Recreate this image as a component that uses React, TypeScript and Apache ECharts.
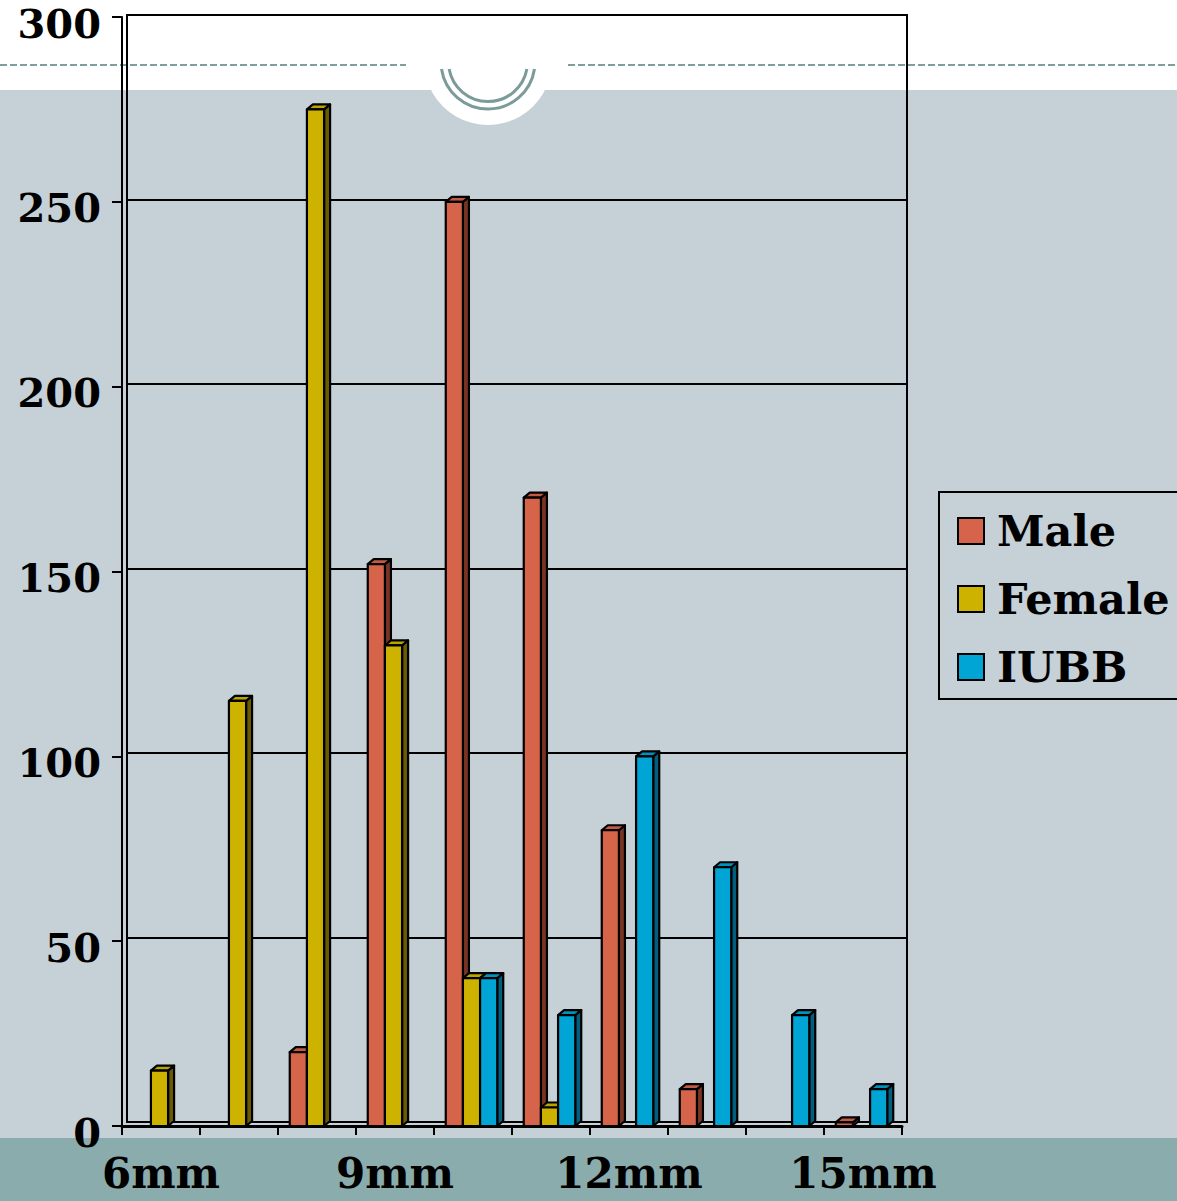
import React, { useEffect, useRef } from "react";
import * as echarts from "echarts";

// Bore sizes along the category axis
const categories = ["6mm", "7mm", "8mm", "9mm", "10mm", "11mm", "12mm", "13mm", "14mm", "15mm"];

// Counts per group
const maleValues = [0, 0, 20, 152, 250, 170, 80, 10, 0, 1];
const femaleValues = [15, 115, 275, 130, 40, 5, 0, 0, 0, 0];
const iubbValues = [0, 0, 0, 0, 40, 30, 100, 70, 30, 10];

// Value axis range
const yMin = 0;
const yMax = 300;
const yStep = 50;

const seriesNames = ["Male", "Female", "IUBB"];
const seriesValues = [maleValues, femaleValues, iubbValues];

// front / side / top face colours for the 3D columns
const palette = [
  { front: "#D5644B", side: "#7A3424", top: "#C45A43" },
  { front: "#CDB300", side: "#6B5B00", top: "#BBA300" },
  { front: "#00A5D6", side: "#005E7E", top: "#0092BC" },
];

const FONT = "'DejaVu Serif', 'Liberation Serif', serif";
const DEPTH_X = 6;
const DEPTH_Y = 5;

function renderColumn(params: any, api: any) {
  const cat = api.value(0);
  const val = api.value(1);
  if (!val) return null;
  const [cx, yTop] = api.coord([cat, val]);
  const [, yBase] = api.coord([cat, 0]);
  const band = api.size([1, 0])[0];
  const w = band * 0.22;
  const x0 = cx - 1.5 * w - 1.5 + params.seriesIndex * w;
  const x1 = x0 + w;
  const c = palette[params.seriesIndex];
  const stroke = { stroke: "#000", lineWidth: 2.2, lineJoin: "round" };
  return {
    type: "group",
    children: [
      {
        type: "polygon",
        shape: {
          points: [
            [x1, yTop],
            [x1 + DEPTH_X, yTop - DEPTH_Y],
            [x1 + DEPTH_X, yBase - DEPTH_Y],
            [x1, yBase],
          ],
        },
        style: { fill: c.side, ...stroke },
      },
      {
        type: "polygon",
        shape: {
          points: [
            [x0, yTop],
            [x0 + DEPTH_X, yTop - DEPTH_Y],
            [x1 + DEPTH_X, yTop - DEPTH_Y],
            [x1, yTop],
          ],
        },
        style: { fill: c.top, ...stroke },
      },
      {
        type: "rect",
        shape: { x: x0, y: yTop, width: w, height: yBase - yTop },
        style: { fill: c.front, ...stroke },
      },
    ],
  };
}

export default function App() {
  const ref = useRef<HTMLDivElement>(null);

  useEffect(() => {
    if (!ref.current) return;
    const chart = echarts.init(ref.current, null, { renderer: "svg" });

    const option: any = {
      animation: false,
      backgroundColor: "#ffffff",
      textStyle: { fontFamily: FONT },
      graphic: [
        // slide background bands
        { type: "rect", z: -20, shape: { x: 0, y: 90, width: 1177, height: 1048 }, style: { fill: "#C5D0D7" } },
        { type: "rect", z: -20, shape: { x: 0, y: 1138, width: 1177, height: 63 }, style: { fill: "#8AACAC" } },
        // dashed rule across the header
        { type: "line", z: -19, shape: { x1: 0, y1: 65, x2: 406, y2: 65 }, style: { stroke: "#7F9E9E", lineWidth: 2, lineDash: [7, 3] } },
        { type: "line", z: -19, shape: { x1: 568, y1: 65, x2: 1177, y2: 65 }, style: { stroke: "#7F9E9E", lineWidth: 2, lineDash: [7, 3] } },
        // header medallion
        { type: "circle", z: -18, shape: { cx: 488, cy: 61, r: 64 }, style: { fill: "#ffffff" } },
        {
          type: "arc", z: -17,
          shape: { cx: 488, cy: 62, r: 47, startAngle: 0.149, endAngle: Math.PI - 0.149, clockwise: true },
          style: { stroke: "#7B9B9A", lineWidth: 3, fill: "none" },
        },
        {
          type: "arc", z: -17,
          shape: { cx: 488, cy: 62, r: 39.5, startAngle: 0.178, endAngle: Math.PI - 0.178, clockwise: true },
          style: { stroke: "#7B9B9A", lineWidth: 3, fill: "none" },
        },
      ],
      legend: {
        data: seriesNames,
        orient: "vertical",
        left: 939,
        top: 492,
        padding: [15, 40, 8, 18],
        itemWidth: 26,
        itemHeight: 26,
        itemGap: 20,
        icon: "rect",
        borderColor: "#000",
        borderWidth: 2,
        itemStyle: { borderColor: "#000", borderWidth: 2 },
        textStyle: {
          fontFamily: FONT,
          fontWeight: "bold",
          fontSize: 43,
          color: "#000",
          lineHeight: 48,
          padding: [0, 0, 0, 8],
        },
      },
      grid: [
        // front plane: columns, axes
        { left: 122, top: 17, right: 275, bottom: 75, outerBoundsMode: "none" },
        // back wall: gridlines and frame
        {
          left: 127, top: 15, right: 270, bottom: 79, outerBoundsMode: "none",
          show: true, borderColor: "#000", borderWidth: 2, backgroundColor: "transparent",
        },
      ],
      xAxis: [
        {
          type: "category",
          gridIndex: 0,
          data: categories,
          boundaryGap: true,
          axisLine: { show: true, lineStyle: { color: "#000", width: 3 } },
          axisTick: { show: true, interval: 0, length: 9, lineStyle: { color: "#000", width: 2 } },
          axisLabel: {
            interval: 2,
            margin: 26,
            fontFamily: FONT,
            fontWeight: "bold",
            fontSize: 42,
            color: "#000",
          },
          splitLine: { show: false },
          z: 5,
        },
        { type: "category", gridIndex: 1, data: categories, show: false },
      ],
      yAxis: [
        {
          type: "value",
          gridIndex: 0,
          min: yMin,
          max: yMax,
          interval: yStep,
          axisLine: { show: true, lineStyle: { color: "#000", width: 2 } },
          axisTick: { show: true, length: 10, lineStyle: { color: "#000", width: 2 } },
          axisLabel: {
            margin: 21,
            color: "#000",
            formatter: "{v|{value}}",
            rich: {
              v: {
                fontFamily: FONT,
                fontWeight: "bold",
                fontSize: 40,
                color: "#000",
                lineHeight: 40,
                padding: [12, 0, 0, 0],
              },
            },
          },
          splitLine: { show: false },
        },
        {
          type: "value",
          gridIndex: 1,
          min: yMin,
          max: yMax,
          interval: yStep,
          axisLine: { show: false },
          axisTick: { show: false },
          axisLabel: { show: false },
          splitLine: { show: true, lineStyle: { color: "#000", width: 2 } },
        },
      ],
      series: seriesNames.map((name, i) => ({
        name,
        type: "custom",
        xAxisIndex: 0,
        yAxisIndex: 0,
        itemStyle: { color: palette[i].front },
        encode: { x: 0, y: 1 },
        data: seriesValues[i].map((v, j) => [j, v]),
        renderItem: renderColumn,
        z: 3,
      })),
    };

    chart.setOption(option);
    return () => chart.dispose();
  }, []);

  return (
    <div
      ref={ref}
      style={{ position: "fixed", left: 0, top: 0, width: 1177, height: 1201, background: "#ffffff" }}
    />
  );
}
